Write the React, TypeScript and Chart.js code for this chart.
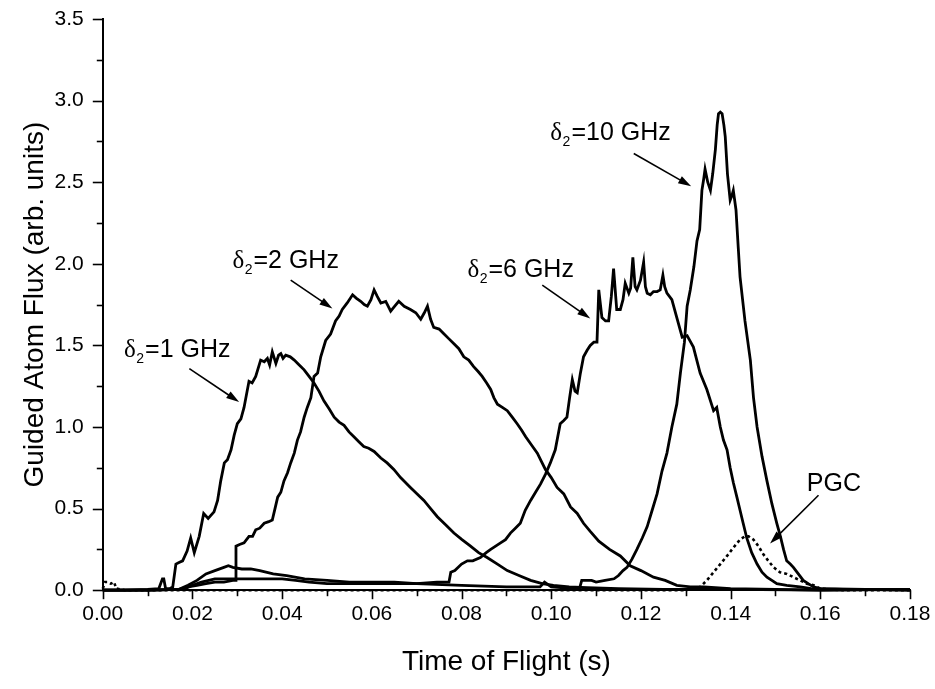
import React, { useEffect, useRef } from 'react';
import { Chart, registerables } from 'chart.js';

Chart.register(...registerables);

const SANS = '"Liberation Sans", Arial, Helvetica, sans-serif';
const SERIF = '"Liberation Serif", "Times New Roman", serif';

// ---- data: [time of flight (s), guided atom flux (arb. units)] ----
const delta1GHz: number[][] = [
  [0, 0], [0.005, 0], [0.010, 0.005], [0.0125, 0.01], [0.0133, 0.07], [0.0136, 0.07], [0.0140, 0.01],
  [0.0150, 0.01], [0.0156, 0.02], [0.0163, 0.16], [0.0170, 0.17], [0.0178, 0.18], [0.0188, 0.24],
  [0.0196, 0.32], [0.0204, 0.23], [0.0215, 0.33], [0.0225, 0.47], [0.0235, 0.44], [0.0248, 0.48],
  [0.0256, 0.55], [0.0263, 0.67], [0.0271, 0.78], [0.0278, 0.80], [0.0286, 0.86], [0.0293, 0.95],
  [0.0300, 1.02], [0.0308, 1.05], [0.0315, 1.12], [0.0326, 1.28], [0.0333, 1.27], [0.0341, 1.31],
  [0.0352, 1.41], [0.0360, 1.40], [0.0367, 1.42], [0.0372, 1.38], [0.0378, 1.46], [0.0386, 1.39],
  [0.0392, 1.44], [0.0397, 1.45], [0.0402, 1.42], [0.0408, 1.44], [0.0418, 1.43], [0.0427, 1.41],
  [0.0438, 1.38], [0.0449, 1.35], [0.0460, 1.31], [0.0471, 1.27], [0.0482, 1.22], [0.0493, 1.16],
  [0.0505, 1.11], [0.0516, 1.06], [0.0527, 1.03], [0.0538, 1.01], [0.0549, 0.97], [0.0560, 0.94],
  [0.0571, 0.91], [0.0582, 0.88], [0.0593, 0.87], [0.0605, 0.85], [0.0620, 0.81], [0.0634, 0.78],
  [0.0649, 0.74], [0.0664, 0.69], [0.0675, 0.66], [0.0686, 0.63], [0.0701, 0.59], [0.0716, 0.55],
  [0.0731, 0.50], [0.0746, 0.45], [0.0765, 0.40], [0.0783, 0.35], [0.0801, 0.31], [0.0820, 0.27],
  [0.0838, 0.23], [0.0857, 0.20], [0.0880, 0.16], [0.0902, 0.12], [0.0928, 0.09], [0.0954, 0.06],
  [0.0980, 0.04], [0.1005, 0.03], [0.1040, 0.02], [0.1080, 0.015], [0.1150, 0.01], [0.125, 0.005],
  [0.14, 0.005], [0.16, 0], [0.18, 0.005],
];

const delta2GHz: number[][] = [
  [0, 0], [0.010, 0], [0.017, 0.005], [0.019, 0.02], [0.021, 0.03], [0.023, 0.04], [0.025, 0.05],
  [0.027, 0.05], [0.0290, 0.06], [0.0296, 0.06], [0.0297, 0.27], [0.0305, 0.28], [0.0315, 0.29],
  [0.0326, 0.33], [0.0334, 0.33], [0.0341, 0.37], [0.0350, 0.38], [0.0360, 0.41], [0.0370, 0.42],
  [0.0378, 0.43], [0.0384, 0.50], [0.0390, 0.57], [0.0397, 0.60], [0.0404, 0.67], [0.0412, 0.72],
  [0.0419, 0.78], [0.0427, 0.84], [0.0434, 0.92], [0.0441, 0.97], [0.0449, 1.06], [0.0456, 1.12],
  [0.0464, 1.18], [0.0471, 1.31], [0.0479, 1.33], [0.0486, 1.43], [0.0497, 1.53], [0.0508, 1.57],
  [0.0519, 1.65], [0.0527, 1.68], [0.0534, 1.72], [0.0545, 1.76], [0.0557, 1.81], [0.0565, 1.79],
  [0.0575, 1.77], [0.0583, 1.75], [0.0590, 1.74], [0.0598, 1.78], [0.0605, 1.84], [0.0612, 1.80],
  [0.0620, 1.76], [0.0631, 1.77], [0.0642, 1.71], [0.0651, 1.74], [0.0660, 1.77], [0.0672, 1.74],
  [0.0686, 1.72], [0.0698, 1.70], [0.0709, 1.66], [0.0717, 1.70], [0.0724, 1.74], [0.0731, 1.66],
  [0.0738, 1.61], [0.0750, 1.60], [0.0761, 1.57], [0.0772, 1.54], [0.0783, 1.51], [0.0794, 1.48],
  [0.0805, 1.43], [0.0816, 1.41], [0.0827, 1.37], [0.0837, 1.34], [0.0846, 1.31], [0.0856, 1.27],
  [0.0865, 1.23], [0.0872, 1.18], [0.0880, 1.14], [0.0891, 1.12], [0.0902, 1.10], [0.0913, 1.06],
  [0.0924, 1.02], [0.0934, 0.98], [0.0943, 0.94], [0.0956, 0.89], [0.0969, 0.84], [0.0978, 0.79],
  [0.0987, 0.74], [0.1000, 0.69], [0.1013, 0.63], [0.1028, 0.59], [0.1043, 0.51], [0.1058, 0.47],
  [0.1072, 0.41], [0.1087, 0.36], [0.1106, 0.30], [0.1130, 0.25], [0.1154, 0.21], [0.1176, 0.15],
  [0.1200, 0.12], [0.1228, 0.08], [0.1254, 0.06], [0.1280, 0.03], [0.1310, 0.02], [0.1340, 0.02],
  [0.14, 0.01], [0.15, 0.005], [0.16, 0], [0.18, 0.005],
];

const delta6GHz: number[][] = [
  [0, 0], [0.010, 0], [0.017, 0.005], [0.019, 0.03], [0.021, 0.06], [0.023, 0.10], [0.025, 0.12],
  [0.027, 0.14], [0.028, 0.15], [0.029, 0.14], [0.031, 0.13], [0.033, 0.13], [0.035, 0.12],
  [0.038, 0.10], [0.041, 0.09], [0.045, 0.07], [0.050, 0.06], [0.055, 0.05], [0.060, 0.05],
  [0.065, 0.05], [0.070, 0.04], [0.0745, 0.05], [0.0772, 0.05], [0.0776, 0.11], [0.0785, 0.12],
  [0.0800, 0.16], [0.0813, 0.18], [0.0825, 0.18], [0.0842, 0.20], [0.0855, 0.23], [0.0865, 0.25],
  [0.0876, 0.27], [0.0887, 0.29], [0.0898, 0.31], [0.0909, 0.35], [0.0920, 0.38], [0.0931, 0.41],
  [0.0942, 0.49], [0.0954, 0.55], [0.0965, 0.60], [0.0976, 0.65], [0.0987, 0.71], [0.0998, 0.78],
  [0.1009, 0.86], [0.1020, 1.02], [0.1028, 1.04], [0.1035, 1.06], [0.1041, 1.18], [0.1047, 1.29],
  [0.1053, 1.22], [0.1058, 1.21], [0.1065, 1.33], [0.1072, 1.43], [0.1080, 1.47], [0.1087, 1.50],
  [0.1095, 1.52], [0.1102, 1.52], [0.1106, 1.84], [0.1113, 1.67], [0.1121, 1.65], [0.1128, 1.65],
  [0.1134, 1.80], [0.1139, 1.97], [0.1146, 1.72], [0.1154, 1.72], [0.1160, 1.78], [0.1165, 1.88],
  [0.1173, 1.82], [0.1177, 1.85], [0.1182, 2.04], [0.1187, 1.86], [0.1191, 1.84], [0.1199, 1.90],
  [0.1206, 2.01], [0.1210, 1.86], [0.1214, 1.82], [0.1221, 1.81], [0.1228, 1.83], [0.1236, 1.83],
  [0.1243, 1.84], [0.1249, 1.93], [0.1253, 1.86], [0.1258, 1.82], [0.1269, 1.78], [0.1280, 1.67],
  [0.1292, 1.55], [0.1303, 1.56], [0.1317, 1.49], [0.1332, 1.33], [0.1347, 1.23], [0.1362, 1.10],
  [0.1369, 1.12], [0.1377, 1.00], [0.1384, 0.92], [0.1392, 0.86], [0.1399, 0.75], [0.1406, 0.66],
  [0.1414, 0.57], [0.1421, 0.49], [0.1428, 0.41], [0.1436, 0.32], [0.1447, 0.23], [0.1459, 0.16],
  [0.1470, 0.11], [0.1481, 0.08], [0.1492, 0.06], [0.1503, 0.04], [0.1525, 0.03], [0.1555, 0.02],
  [0.1580, 0.01], [0.165, 0.005], [0.18, 0],
];

const delta10GHz: number[][] = [
  [0, 0], [0.010, 0], [0.018, 0.005], [0.020, 0.03], [0.022, 0.05], [0.025, 0.07], [0.030, 0.07],
  [0.035, 0.07], [0.040, 0.07], [0.043, 0.06], [0.046, 0.05], [0.050, 0.04], [0.060, 0.04],
  [0.070, 0.04], [0.080, 0.03], [0.090, 0.02], [0.0975, 0.02], [0.0985, 0.05], [0.100, 0.02],
  [0.105, 0.01], [0.1063, 0.01], [0.1068, 0.06], [0.1090, 0.06], [0.1100, 0.05], [0.1120, 0.06],
  [0.1140, 0.07], [0.1150, 0.09], [0.1160, 0.12], [0.1169, 0.14], [0.1180, 0.19], [0.1191, 0.25],
  [0.1203, 0.32], [0.1214, 0.39], [0.1225, 0.49], [0.1236, 0.59], [0.1247, 0.73], [0.1258, 0.84],
  [0.1269, 1.00], [0.1280, 1.14], [0.1288, 1.33], [0.1297, 1.52], [0.1303, 1.74], [0.1310, 1.84],
  [0.1318, 1.98], [0.1325, 2.14], [0.1331, 2.21], [0.1336, 2.45], [0.1340, 2.52], [0.1343, 2.58],
  [0.1349, 2.50], [0.1355, 2.45], [0.1360, 2.55], [0.1366, 2.70], [0.1370, 2.85], [0.1373, 2.92],
  [0.1377, 2.93], [0.1381, 2.92], [0.1385, 2.85], [0.1388, 2.78], [0.1393, 2.55], [0.1399, 2.39],
  [0.1403, 2.42], [0.1406, 2.45], [0.1412, 2.33], [0.1417, 2.10], [0.1421, 1.92], [0.1432, 1.65],
  [0.1444, 1.41], [0.1451, 1.18], [0.1459, 1.00], [0.1470, 0.82], [0.1481, 0.67], [0.1492, 0.53],
  [0.1503, 0.41], [0.1511, 0.33], [0.1518, 0.25], [0.1525, 0.18], [0.1533, 0.16], [0.1540, 0.14],
  [0.1551, 0.10], [0.1562, 0.06], [0.1573, 0.04], [0.1585, 0.02], [0.160, 0.01], [0.17, 0.005],
  [0.18, 0],
];

const pgc: number[][] = [
  [0, 0.01], [0.0005, 0.05], [0.0010, 0.05], [0.0018, 0.04], [0.0025, 0.05], [0.0030, 0.01],
  [0.005, 0], [0.02, 0], [0.05, 0], [0.08, 0], [0.10, 0], [0.12, 0], [0.130, 0], [0.1332, 0.02],
  [0.1347, 0.06], [0.1362, 0.11], [0.1377, 0.16], [0.1392, 0.21], [0.1406, 0.26], [0.1421, 0.31],
  [0.1432, 0.33], [0.1440, 0.33], [0.1451, 0.31], [0.1462, 0.27], [0.1473, 0.22], [0.1484, 0.18],
  [0.1496, 0.14], [0.1510, 0.11], [0.1525, 0.10], [0.1540, 0.08], [0.1555, 0.06], [0.1570, 0.04],
  [0.1585, 0.03], [0.160, 0.01], [0.165, 0], [0.18, 0],
];

// ---- annotations (data coordinates) ----
const deltaLabelValues = ['1 GHz', '2 GHz', '6 GHz', '10 GHz'];
const deltaLabelAnchors: number[][] = [[0.00474, 1.428], [0.0289, 1.973], [0.0813, 1.918], [0.0998, 2.757]];
const deltaArrows: number[][][] = [
  [[0.0193, 1.358], [0.0304, 1.153]],
  [[0.0419, 1.900], [0.0512, 1.726]],
  [[0.0980, 1.869], [0.1087, 1.665]],
  [[0.1184, 2.676], [0.1312, 2.475]],
];
const pgcLabel = 'PGC';
const pgcAnchor = [0.157, 0.607];
const pgcArrow = [[0.1596, 0.582], [0.1488, 0.286]];

const xTickValues = [0, 0.01, 0.02, 0.03, 0.04, 0.05, 0.06, 0.07, 0.08, 0.09, 0.10, 0.11, 0.12, 0.13, 0.14, 0.15, 0.16, 0.17, 0.18];
const yTickValues = [0, 0.25, 0.5, 0.75, 1.0, 1.25, 1.5, 1.75, 2.0, 2.25, 2.5, 2.75, 3.0, 3.25, 3.5];

const toPoints = (arr: number[][]) => arr.map(([x, y]) => ({ x, y }));

function drawArrow(ctx: CanvasRenderingContext2D, x1: number, y1: number, x2: number, y2: number) {
  const ang = Math.atan2(y2 - y1, x2 - x1);
  const headLen = 13;
  const headHalf = 4;
  ctx.save();
  ctx.strokeStyle = '#000';
  ctx.fillStyle = '#000';
  ctx.lineWidth = 1.6;
  ctx.beginPath();
  ctx.moveTo(x1, y1);
  ctx.lineTo(x2 - Math.cos(ang) * headLen * 0.8, y2 - Math.sin(ang) * headLen * 0.8);
  ctx.stroke();
  ctx.beginPath();
  ctx.moveTo(x2, y2);
  ctx.lineTo(
    x2 - Math.cos(ang) * headLen - Math.sin(ang) * headHalf,
    y2 - Math.sin(ang) * headLen + Math.cos(ang) * headHalf
  );
  ctx.lineTo(
    x2 - Math.cos(ang) * headLen + Math.sin(ang) * headHalf,
    y2 - Math.sin(ang) * headLen - Math.cos(ang) * headHalf
  );
  ctx.closePath();
  ctx.fill();
  ctx.restore();
}

const decorPlugin = {
  id: 'decor',
  afterDraw(chart: any) {
    const ctx: CanvasRenderingContext2D = chart.ctx;
    const xs = chart.scales.x;
    const ys = chart.scales.y;
    const area = chart.chartArea;
    ctx.save();
    ctx.strokeStyle = '#000';
    ctx.lineWidth = 1.6;
    xTickValues.forEach((v, i) => {
      const px = Math.round(xs.getPixelForValue(v)) + 0.5;
      const len = i % 2 === 0 ? 9 : 6;
      ctx.beginPath();
      ctx.moveTo(px, area.bottom);
      ctx.lineTo(px, area.bottom + len);
      ctx.stroke();
    });
    yTickValues.forEach((v, i) => {
      const py = Math.round(ys.getPixelForValue(v)) + 0.5;
      const len = i % 2 === 0 ? 10 : 6;
      ctx.beginPath();
      ctx.moveTo(area.left, py);
      ctx.lineTo(area.left - len, py);
      ctx.stroke();
    });
    ctx.restore();

    ctx.save();
    ctx.fillStyle = '#000';
    ctx.textBaseline = 'alphabetic';
    ctx.textAlign = 'left';
    deltaLabelValues.forEach((val, i) => {
      const [dx, dy] = deltaLabelAnchors[i];
      let x = xs.getPixelForValue(dx);
      const y = ys.getPixelForValue(dy);
      ctx.font = `25px ${SERIF}`;
      ctx.fillText('δ', x, y);
      x += ctx.measureText('δ').width + 0.5;
      ctx.font = `14px ${SANS}`;
      ctx.fillText('2', x, y + 6);
      x += ctx.measureText('2').width + 1;
      ctx.font = `25px ${SANS}`;
      ctx.fillText('=' + val, x, y);
      const [[ax1, ay1], [ax2, ay2]] = deltaArrows[i];
      drawArrow(ctx, xs.getPixelForValue(ax1), ys.getPixelForValue(ay1), xs.getPixelForValue(ax2), ys.getPixelForValue(ay2));
    });
    ctx.font = `25px ${SANS}`;
    ctx.fillText(pgcLabel, xs.getPixelForValue(pgcAnchor[0]), ys.getPixelForValue(pgcAnchor[1]));
    drawArrow(
      ctx,
      xs.getPixelForValue(pgcArrow[0][0]), ys.getPixelForValue(pgcArrow[0][1]),
      xs.getPixelForValue(pgcArrow[1][0]), ys.getPixelForValue(pgcArrow[1][1])
    );
    ctx.restore();
  },
};

export default function App() {
  const ref = useRef<HTMLCanvasElement | null>(null);

  useEffect(() => {
    document.body.style.margin = '0';
    const canvas = ref.current;
    if (!canvas) return;
    const solid = (label: string, arr: number[][]) => ({
      label,
      data: toPoints(arr),
      borderColor: '#000',
      borderWidth: 2.8,
      pointRadius: 0,
      tension: 0,
      fill: false,
      clip: 4,
    });
    const chart = new Chart(canvas, {
      type: 'line',
      data: {
        datasets: [
          solid('δ2=1 GHz', delta1GHz),
          solid('δ2=2 GHz', delta2GHz),
          solid('δ2=6 GHz', delta6GHz),
          solid('δ2=10 GHz', delta10GHz),
          {
            label: 'PGC',
            data: toPoints(pgc),
            borderColor: '#000',
            borderWidth: 2.6,
            borderDash: [3, 3],
            pointRadius: 0,
            tension: 0,
            fill: false,
            clip: 4,
          } as any,
        ],
      },
      options: {
        animation: false,
        responsive: false,
        devicePixelRatio: 1,
        layout: { padding: { left: 14, right: 25, top: 19, bottom: 10 } },
        plugins: {
          legend: { display: false },
          tooltip: { enabled: false },
        },
        scales: {
          x: {
            type: 'linear',
            min: 0,
            max: 0.18,
            afterFit: (s: any) => {
              s.paddingLeft = 0;
              s.paddingRight = 0;
            },
            grid: { display: false, drawTicks: false },
            border: { display: true, color: '#000', width: 2 },
            ticks: {
              stepSize: 0.01,
              padding: 11,
              color: '#000',
              maxRotation: 0,
              autoSkip: false,
              font: { family: SANS, size: 21 },
              callback: (v: any, i: number) => (i % 2 === 0 ? Number(v).toFixed(2) : ''),
            },
            title: {
              display: true,
              text: 'Time of Flight (s)',
              color: '#000',
              font: { family: SANS, size: 28 },
              padding: { top: 8, bottom: 0 },
            },
          },
          y: {
            type: 'linear',
            min: 0,
            max: 3.5,
            afterFit: (s: any) => {
              s.paddingTop = 0;
              s.paddingBottom = 0;
            },
            grid: { display: false, drawTicks: false },
            border: { display: true, color: '#000', width: 2 },
            ticks: {
              stepSize: 0.25,
              padding: 19,
              color: '#000',
              autoSkip: false,
              font: { family: SANS, size: 21 },
              callback: (v: any, i: number) => (i % 2 === 0 ? Number(v).toFixed(1) : ''),
            },
            title: {
              display: true,
              text: 'Guided Atom Flux (arb. units)',
              color: '#000',
              font: { family: SANS, size: 28 },
              padding: { top: 4, bottom: -16 },
            },
          },
        },
      },
      plugins: [decorPlugin],
    } as any);
    return () => chart.destroy();
  }, []);

  return (
    <div style={{ width: 935, height: 689, background: '#fff' }}>
      <canvas ref={ref} width={935} height={689} style={{ display: 'block' }} />
    </div>
  );
}
